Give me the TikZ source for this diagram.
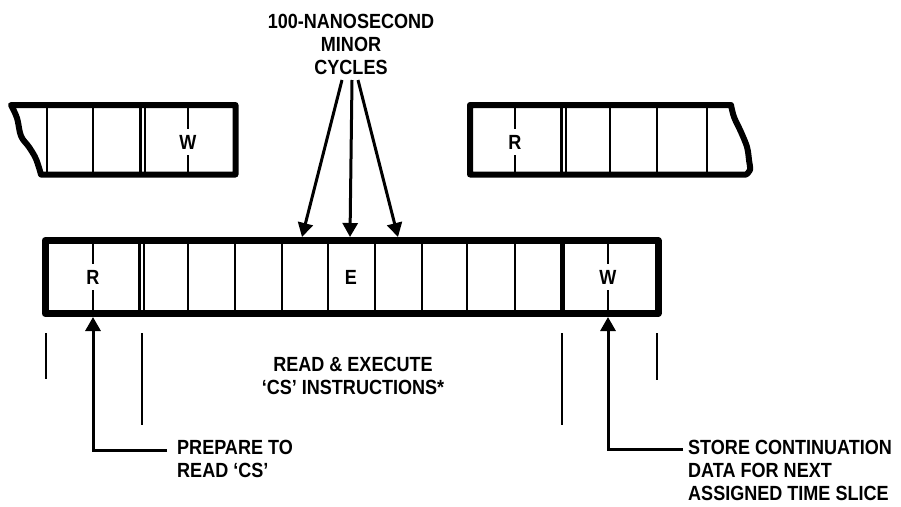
\documentclass[tikz,border=0pt]{standalone}
\usepackage{fontspec}
\newfontfamily\labelfont[FakeStretch=0.88]{Liberation Sans}
\usetikzlibrary{arrows.meta}

\tikzset{
  frame/.style={line width=7pt, line join=round},
  divider/.style={line width=2.2pt},
  tick/.style={line width=1.8pt},
  pointer/.style={line width=3pt, -{Triangle[length=14pt, width=15pt]}},
  lbl/.style={font=\labelfont\bfseries\fontsize{20.5}{23}\selectfont, inner sep=0pt},
  cellmark/.style={lbl, fill=white, inner xsep=2pt, inner ysep=6pt},
}

\begin{document}
\begin{tikzpicture}[x=1pt, y=-1pt]
    \useasboundingbox (0,0) rectangle (901,506);

    % Previous time slice (torn at left)
    \foreach \x in {47, 93, 145, 188} {
        \draw[divider] (\x,105) -- (\x,174.5);
    }
    \draw[divider, line width=3pt] (140,105) -- (140,174.5);
    \draw[frame, line width=6pt] (235.5,174.5) -- (235.5,105) -- (11,105)
        -- plot[smooth, tension=0.6] coordinates {(11,105) (17,118) (21,136) (29,147) (36,159) (41,174.5)}
        -- cycle;

    % Next time slice (torn at right)
    \foreach \x in {515, 566, 610, 657, 707} {
        \draw[divider] (\x,105) -- (\x,174.5);
    }
    \draw[divider, line width=3pt] (561,105) -- (561,174.5);
    \draw[frame, line width=6pt] (470,174.5) -- (470,105) -- (731,105)
        -- plot[smooth, tension=0.6] coordinates {(731,105) (734,117) (741,132) (747,147) (749,160) (750,170) (746,174.5)}
        -- cycle;

    % Assigned time slice
    \foreach \x in {93, 144, 188, 235, 282, 328, 375, 422, 467, 515, 608} {
        \draw[divider] (\x,240.5) -- (\x,313.5);
    }
    \draw[divider, line width=3pt] (139,240.5) -- (139,313.5);
    \draw[divider, line width=5pt] (562,240.5) -- (562,313.5);
    \draw[frame] (45,240.5) rectangle (658,313.5);

    % Cycle marks
    \node[cellmark] (wprev) at (188,142) {W};
    \node[cellmark] (rnext) at (515,142) {R};
    \node[cellmark] (rslot) at (93,277) {R};
    \node[cellmark] (eslot) at (351,277) {E};
    \node[cellmark] (wslot) at (608,277) {W};

    % Minor cycles
    \node[lbl, anchor=north, align=center] (cycles) at (351,14) {100-NANOSECOND\\MINOR\\CYCLES};
    \coordinate (fanA) at (342,80);
    \coordinate (fanB) at (352,80);
    \coordinate (fanC) at (358,80);
    \coordinate (cycA) at (302,237);
    \coordinate (cycB) at (350,237);
    \coordinate (cycC) at (398,237);
    \draw[pointer] (fanA) -- (cycA);
    \draw[pointer] (fanB) -- (cycB);
    \draw[pointer] (fanC) -- (cycC);

    % Ticks below the slice
    \foreach \x/\y in {46/379, 142/425, 562/425, 657/380} {
        \draw[tick] (\x,333) -- (\x,\y);
    }

    \node[lbl, anchor=north, align=center] (readexec) at (353,357) {READ \& EXECUTE\\‘CS’ INSTRUCTIONS*};

    % Read and store pointers
    \coordinate (rtip) at (93,317);
    \coordinate (rfoot) at (167,450);
    \coordinate (wtip) at (608,317);
    \coordinate (wfoot) at (683,449);
    \draw[pointer] (rfoot) -| (rtip);
    \draw[pointer] (wfoot) -| (wtip);
    \node[lbl, anchor=north west, align=left] (prep) at (177,440) {PREPARE TO\\READ ‘CS’};
    \node[lbl, anchor=north west, align=left] (store) at (688,440) {STORE CONTINUATION\\DATA FOR NEXT\\ASSIGNED TIME SLICE};

\end{tikzpicture}
\end{document}
